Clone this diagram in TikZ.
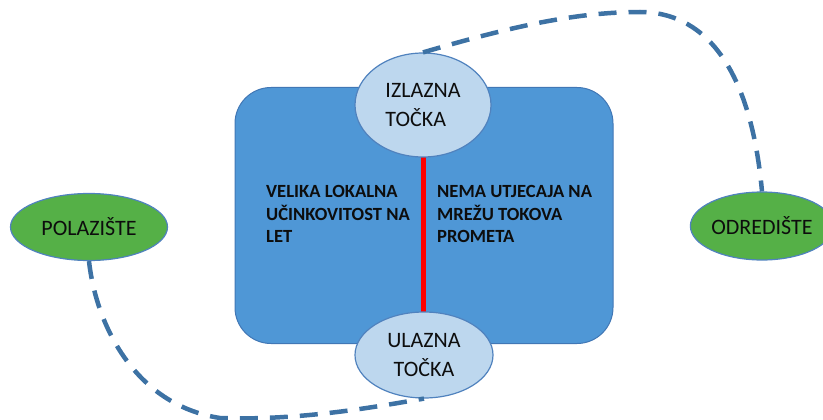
\documentclass[tikz,border=0pt]{standalone}
\usepackage{fontspec}
\setmainfont{Carlito}
\usetikzlibrary{shapes.geometric}
\definecolor{boxblue}{RGB}{79,151,214}
\definecolor{boxedge}{RGB}{65,119,181}
\definecolor{lightblue}{RGB}{189,215,238}
\definecolor{elledge}{RGB}{80,130,190}
\definecolor{leafgreen}{RGB}{85,176,71}
\definecolor{dashblue}{RGB}{61,114,164}
\definecolor{txt}{RGB}{13,13,13}
\tikzset{
  x=1pt, y=-1pt,
  pointell/.style={ellipse, draw=elledge, line width=1.2pt, fill=lightblue, inner sep=0pt,
    text=txt, font=\fontsize{22}{29}\selectfont, align=center},
  endell/.style={ellipse, draw=elledge, line width=1.2pt, fill=leafgreen, inner sep=0pt,
    text=txt, font=\fontsize{22}{27}\selectfont},
  boxtext/.style={anchor=west, align=left, text=txt, inner sep=0pt,
    font=\fontsize{18.6}{22.5}\selectfont\bfseries},
  route/.style={draw=dashblue, line width=4.5pt, dash pattern=on 18pt off 12pt}
}
\begin{document}
\begin{tikzpicture}
\useasboundingbox (0,0) rectangle (823,420);
% central box
\node[draw=boxedge, line width=1pt, fill=boxblue, rounded corners=36pt, minimum width=378pt, minimum height=256pt, inner sep=0pt] (box) at (424,215.5) {};
% red divider
\coordinate (rtop) at (423,150);
\coordinate (rbot) at (423,318);
\draw[red, line width=5pt] (rtop) -- (rbot);
% points
\node[pointell, minimum width=136pt, minimum height=104pt, align=left] (iz) at (423,105) {IZLAZNA\\TOČKA};
\node[pointell, minimum width=138pt, minimum height=86pt] (ul) at (424,355) {ULAZNA\\TOČKA};
% origin / destination
\node[endell, minimum width=157pt, minimum height=67pt] (pol) at (89,227) {POLAZIŠTE};
\node[endell, minimum width=128pt, minimum height=68pt] (od) at (762,226) {ODREDIŠTE};
% box texts
\node[boxtext] (lt) at (266,214) {VELIKA LOKALNA\\UČINKOVITOST NA\\LET};
\node[boxtext] (rt) at (437,214) {NEMA UTJECAJA NA\\MREŽU TOKOVA\\PROMETA};
% routes
\draw[route] (iz.north) .. controls (500,30) and (570,12) .. (640,12) .. controls (700,12) and (750,60) .. (od.north);
\draw[route] (pol.south) .. controls (96,325) and (135,405) .. (220,418) .. controls (300,421) and (380,406) .. (ul.south);
\end{tikzpicture}
\end{document}
